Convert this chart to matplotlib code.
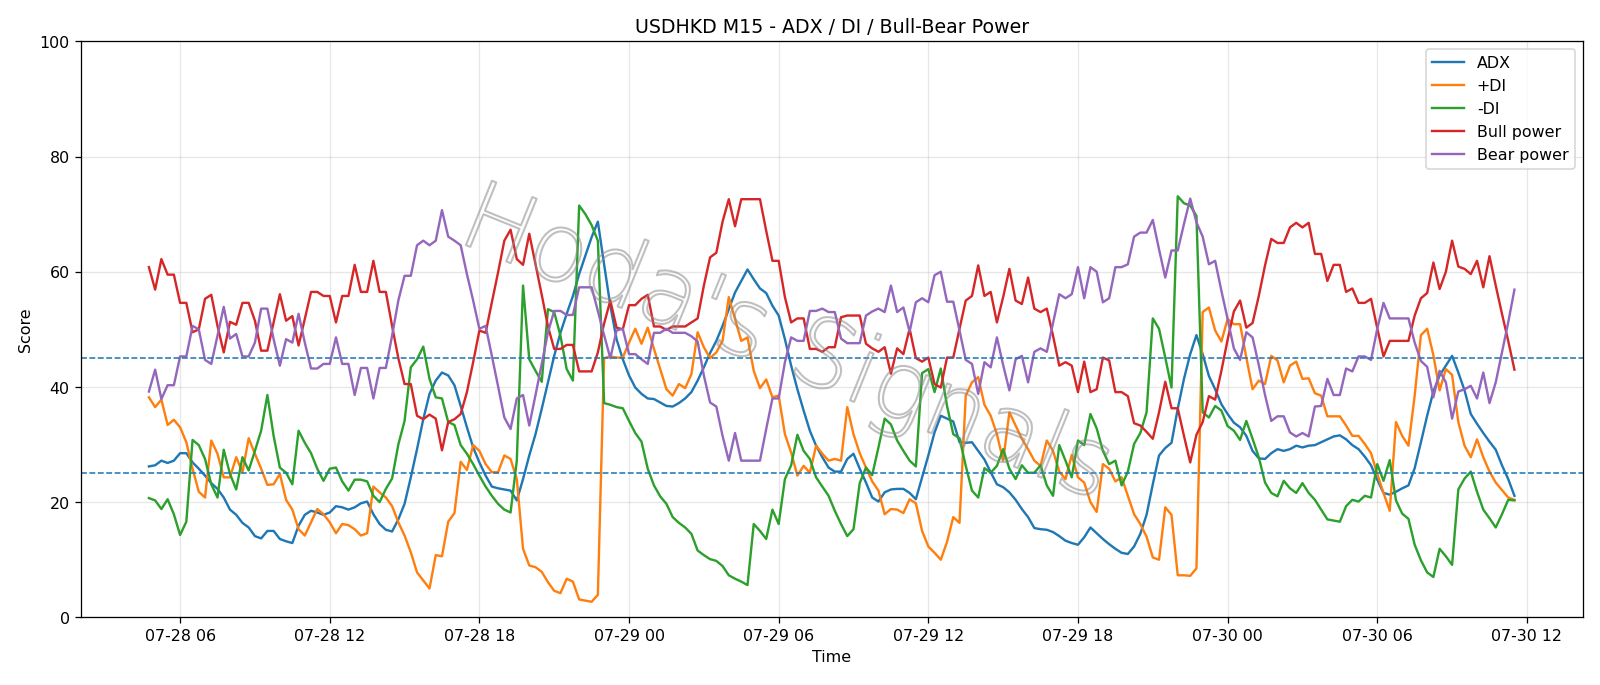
import pandas as pd
import matplotlib
matplotlib.use('Agg')
import matplotlib.pyplot as plt
import matplotlib.dates as mdates
import matplotlib.patheffects as pe

# 15-minute bars, 07-28 04:45 -> 07-30 11:30
times = pd.date_range('2025-07-28 04:45', periods=220, freq='15min')

adx = [
    26.2, 26.4, 27.2, 26.8, 27.2, 28.5, 28.5, 26.9, 25.8, 24.6, 23.3, 22.3, 20.8, 18.7, 17.8, 16.4, 15.6, 14.1, 13.7, 15.0,
    15.0, 13.6, 13.2, 12.9, 15.9, 17.8, 18.5, 18.2, 17.8, 18.2, 19.3, 19.1, 18.7, 19.1, 19.8, 20.1, 17.9, 16.2, 15.2, 14.9,
    17.0, 19.7, 24.3, 29.2, 34.4, 38.8, 41.1, 42.5, 42.0, 40.3, 36.7, 33.0, 29.5, 26.9, 24.6, 22.7, 22.4, 22.2, 22.0, 20.3,
    24.0, 28.1, 31.8, 36.2, 40.8, 45.4, 49.4, 52.7, 55.8, 59.6, 62.8, 66.0, 68.7, 61.3, 54.1, 48.3, 44.8, 42.0, 39.9, 38.8,
    38.0, 37.9, 37.3, 36.7, 36.6, 37.2, 38.0, 39.1, 41.1, 43.4, 45.9, 48.0, 50.6, 53.5, 56.4, 58.4, 60.4, 58.7, 57.1, 56.3,
    54.1, 52.4, 48.3, 43.7, 39.6, 35.9, 32.4, 29.8, 27.8, 26.0, 25.3, 25.3, 27.5, 28.4, 25.8, 23.4, 20.8, 20.1, 21.7, 22.2,
    22.3, 22.3, 21.6, 20.5, 24.3, 28.1, 32.1, 35.0, 34.5, 34.0, 30.4, 30.3, 30.4, 28.9, 27.4, 25.2, 23.1, 22.6, 21.7, 20.4,
    18.8, 17.4, 15.5, 15.3, 15.2, 14.8, 14.1, 13.3, 12.9, 12.6, 13.9, 15.6, 14.6, 13.6, 12.7, 11.9, 11.2, 11.0, 12.3, 14.5,
    17.8, 23.1, 28.1, 29.4, 30.3, 36.2, 41.4, 45.7, 49.0, 45.7, 41.9, 39.6, 37.0, 35.3, 33.8, 33.0, 31.5, 28.9, 27.6, 27.5,
    28.5, 29.2, 28.9, 29.2, 29.8, 29.5, 29.8, 29.9, 30.4, 30.9, 31.4, 31.6, 30.9, 29.9, 29.2, 27.9, 26.4, 23.9, 21.6, 21.3,
    21.8, 22.4, 22.9, 25.9, 30.4, 35.0, 39.2, 42.0, 43.7, 45.4, 42.5, 39.4, 35.3, 33.6, 32.0, 30.5, 29.1, 26.4, 24.0, 21.1,
]

plus_di = [
    38.2, 36.5, 37.8, 33.4, 34.3, 33.0, 30.4, 25.8, 21.8, 20.8, 30.7, 28.4, 24.3, 24.3, 27.8, 25.2, 31.1, 28.4, 25.8, 23.0,
    23.1, 24.9, 20.4, 18.7, 15.3, 14.2, 16.5, 18.8, 17.9, 16.5, 14.6, 16.2, 16.0, 15.3, 14.2, 14.6, 22.7, 21.7, 20.8, 19.3,
    16.5, 14.2, 11.3, 7.8, 6.4, 5.0, 10.8, 10.6, 16.6, 18.1, 27.0, 25.6, 29.9, 28.9, 26.6, 25.2, 25.2, 28.1, 27.5, 24.0,
    11.9, 9.0, 8.7, 7.9, 6.1, 4.6, 4.2, 6.7, 6.2, 3.1, 2.9, 2.7, 3.9, 45.0, 45.3, 45.1, 45.1, 47.7, 50.1, 47.5,
    50.3, 46.6, 43.1, 39.6, 38.5, 40.5, 39.8, 42.2, 49.5, 46.9, 45.0, 46.0, 48.0, 55.6, 51.8, 48.0, 48.6, 42.8, 39.8, 41.3,
    38.2, 38.5, 31.8, 28.6, 24.6, 26.3, 25.1, 29.8, 28.4, 27.2, 27.5, 27.2, 36.5, 31.8, 28.5, 26.0, 23.6, 22.0, 17.9, 18.8,
    18.7, 18.1, 20.5, 19.8, 15.0, 12.3, 11.2, 10.0, 13.1, 17.4, 16.4, 38.5, 40.8, 41.7, 36.9, 35.0, 31.8, 27.2, 35.6, 33.3,
    31.0, 29.2, 27.2, 26.3, 30.7, 28.9, 25.3, 24.0, 28.2, 24.3, 23.4, 20.0, 18.3, 26.6, 25.8, 23.6, 24.3, 21.1, 17.9, 16.2,
    14.0, 10.4, 10.0, 19.1, 17.8, 7.3, 7.3, 7.2, 8.5, 53.0, 53.8, 49.8, 47.9, 51.8, 50.9, 50.9, 45.1, 39.6, 41.1, 40.5,
    45.4, 44.6, 40.8, 43.7, 44.4, 41.4, 41.5, 38.9, 38.5, 34.9, 34.9, 34.9, 33.3, 31.5, 31.5, 30.1, 28.5, 24.9, 21.6, 18.5,
    33.9, 31.5, 29.8, 38.5, 49.0, 50.1, 45.5, 39.4, 43.1, 42.1, 33.9, 29.8, 27.8, 30.9, 27.8, 25.3, 23.4, 22.1, 20.8, 20.4,
]

minus_di = [
    20.7, 20.3, 18.8, 20.5, 17.9, 14.3, 16.6, 30.8, 29.9, 27.5, 23.1, 20.8, 29.1, 24.9, 22.2, 27.8, 25.5, 28.9, 32.4, 38.6,
    31.5, 26.0, 25.1, 23.1, 32.4, 30.3, 28.5, 25.8, 23.7, 25.8, 26.0, 23.6, 22.0, 23.9, 23.9, 23.6, 21.1, 20.0, 22.3, 24.1,
    30.0, 34.1, 43.4, 44.8, 47.0, 41.4, 38.2, 38.0, 33.9, 33.4, 29.9, 28.4, 26.6, 24.6, 22.7, 21.1, 19.7, 18.7, 18.2, 27.2,
    57.6, 44.8, 42.8, 40.9, 53.5, 53.0, 48.9, 43.1, 41.1, 71.5, 70.0, 68.1, 65.4, 37.2, 36.9, 36.5, 36.3, 34.1, 32.0, 30.5,
    25.8, 22.9, 21.0, 19.7, 17.4, 16.4, 15.6, 14.5, 11.6, 10.8, 10.1, 9.8, 8.9, 7.3, 6.7, 6.2, 5.6, 16.2, 15.0, 13.6,
    18.7, 16.2, 24.0, 26.4, 31.7, 28.9, 27.5, 24.3, 22.7, 21.1, 18.5, 16.2, 14.1, 15.3, 23.3, 26.0, 24.7, 29.5, 34.5, 33.5,
    30.7, 28.9, 27.2, 26.2, 42.4, 43.1, 39.1, 43.2, 36.7, 31.8, 31.1, 26.3, 22.0, 20.8, 25.9, 25.1, 26.3, 29.2, 25.8, 24.0,
    26.4, 25.1, 25.1, 26.4, 22.9, 21.1, 29.9, 27.2, 24.3, 30.7, 29.9, 35.3, 32.8, 28.9, 26.6, 27.2, 22.9, 25.3, 30.1, 32.0,
    35.6, 51.9, 50.1, 45.1, 39.9, 73.1, 71.9, 71.5, 69.7, 35.6, 34.7, 36.7, 35.9, 33.2, 32.4, 30.8, 34.1, 31.0, 27.8, 23.4,
    21.6, 21.0, 23.7, 22.4, 21.6, 23.3, 21.6, 20.4, 18.7, 17.0, 16.8, 16.6, 19.3, 20.4, 20.1, 21.1, 20.8, 26.6, 23.7, 27.3,
    20.3, 18.0, 17.1, 12.6, 9.9, 7.8, 7.0, 11.9, 10.6, 9.1, 22.2, 24.1, 25.3, 21.8, 18.7, 17.2, 15.6, 17.9, 20.4, 20.3,
]

bull_power = [
    60.8, 56.9, 62.2, 59.5, 59.5, 54.6, 54.6, 49.5, 50.0, 55.3, 56.0, 50.6, 46.0, 51.3, 50.8, 54.6, 54.6, 51.5, 46.3, 46.3,
    51.2, 56.1, 51.5, 52.3, 47.2, 51.8, 56.5, 56.5, 55.8, 55.8, 51.2, 55.8, 55.8, 61.2, 56.5, 56.5, 61.9, 56.5, 56.5, 50.6,
    45.0, 40.5, 40.5, 35.0, 34.4, 35.2, 34.5, 29.0, 33.9, 34.4, 35.3, 39.1, 44.3, 49.8, 49.4, 54.7, 59.9, 65.4, 67.3, 62.2,
    61.2, 66.6, 61.3, 56.0, 50.5, 46.6, 46.6, 47.3, 47.3, 42.7, 42.7, 42.7, 46.0, 51.0, 55.0, 50.3, 50.0, 54.2, 54.2, 55.3,
    56.0, 50.5, 50.5, 49.9, 50.5, 50.5, 50.5, 51.2, 51.9, 57.6, 62.5, 63.3, 68.7, 72.6, 67.9, 72.6, 72.6, 72.6, 72.6, 67.1,
    61.9, 61.9, 55.6, 51.2, 51.9, 51.9, 46.6, 46.6, 46.1, 46.9, 46.9, 52.1, 52.4, 52.4, 52.4, 47.5, 46.7, 46.1, 46.9, 42.3,
    46.7, 45.7, 50.1, 45.0, 44.4, 45.1, 40.5, 39.9, 45.1, 45.1, 50.1, 55.0, 55.8, 61.1, 55.8, 56.5, 51.2, 55.6, 60.5, 55.0,
    54.4, 59.0, 53.6, 53.0, 53.6, 48.9, 43.7, 44.3, 43.7, 39.1, 44.4, 39.1, 39.6, 45.1, 44.6, 39.1, 39.1, 38.4, 33.7, 33.3,
    32.2, 31.0, 35.6, 40.9, 36.3, 36.3, 31.5, 26.9, 31.7, 33.9, 38.4, 37.8, 42.8, 48.2, 53.1, 55.0, 50.3, 51.1, 55.8, 61.1,
    65.7, 65.0, 65.0, 67.7, 68.5, 67.7, 68.5, 63.1, 63.1, 58.4, 61.2, 61.2, 56.5, 57.1, 54.6, 54.6, 55.3, 50.2, 45.3, 48.0,
    48.0, 48.0, 48.0, 52.4, 55.4, 56.3, 61.6, 57.0, 60.0, 65.4, 60.9, 60.5, 59.6, 61.9, 57.3, 62.7, 57.6, 52.7, 48.0, 43.0,
]

bear_power = [
    39.2, 43.0, 37.9, 40.3, 40.3, 45.3, 45.3, 50.6, 50.0, 44.7, 44.0, 48.9, 53.9, 48.4, 49.2, 45.3, 45.3, 47.7, 53.6, 53.6,
    48.3, 43.7, 48.3, 47.7, 52.7, 47.7, 43.2, 43.2, 44.0, 44.0, 48.6, 44.0, 44.0, 38.6, 43.3, 43.3, 38.0, 43.3, 43.3, 48.9,
    55.0, 59.3, 59.3, 64.6, 65.4, 64.6, 65.4, 70.7, 66.1, 65.4, 64.6, 59.6, 55.0, 50.1, 50.6, 45.4, 40.1, 34.7, 32.7, 38.0,
    38.6, 33.3, 38.6, 44.0, 49.5, 53.2, 53.2, 52.5, 52.5, 57.3, 57.3, 57.3, 53.2, 49.0, 45.0, 49.8, 50.1, 45.7, 45.7, 44.8,
    44.0, 49.4, 49.4, 50.1, 49.4, 49.4, 49.4, 48.8, 47.9, 42.0, 37.3, 36.6, 31.5, 27.2, 32.0, 27.2, 27.2, 27.2, 27.2, 32.7,
    38.0, 38.0, 44.3, 48.6, 48.0, 48.0, 53.2, 53.2, 53.6, 53.0, 53.0, 48.4, 47.6, 47.6, 47.6, 52.4, 53.1, 53.6, 53.0, 57.6,
    53.0, 53.8, 49.6, 54.7, 55.4, 54.7, 59.4, 60.0, 54.8, 54.8, 49.8, 44.7, 44.0, 38.8, 44.3, 43.4, 48.6, 43.8, 39.4, 44.8,
    45.4, 40.8, 46.1, 46.7, 46.1, 51.1, 56.1, 55.4, 56.1, 60.8, 55.4, 60.8, 60.0, 54.7, 55.4, 60.8, 60.8, 61.3, 66.1, 66.8,
    66.8, 69.0, 63.9, 59.0, 63.7, 63.7, 68.3, 72.7, 68.6, 66.1, 61.3, 61.9, 56.7, 51.8, 46.7, 44.7, 49.5, 48.6, 43.8, 38.6,
    34.1, 34.9, 34.9, 32.1, 31.4, 32.0, 31.4, 36.6, 36.7, 41.4, 38.6, 38.6, 43.2, 42.7, 45.3, 45.3, 44.7, 50.1, 54.6, 51.9,
    51.9, 51.9, 51.9, 47.7, 44.5, 43.5, 38.2, 42.8, 40.8, 34.5, 39.2, 39.6, 40.2, 38.0, 42.5, 37.2, 40.8, 46.0, 51.2, 56.9,
]

fig = plt.figure(figsize=(14, 6), dpi=1600 / 14)
ax = fig.add_axes([0.0504, 0.0987, 0.9388, 0.8399])

ax.plot(times, adx, label='ADX')
ax.plot(times, plus_di, label='+DI')
ax.plot(times, minus_di, label='-DI')
ax.plot(times, bull_power, label='Bull power')
ax.plot(times, bear_power, label='Bear power')

ax.axhline(25, linestyle='--', linewidth=1, color='tab:blue')
ax.axhline(45, linestyle='--', linewidth=1, color='tab:blue')

ax.set_ylim(0, 100)
ax.set_title('USDHKD M15 - ADX / DI / Bull-Bear Power')
ax.set_xlabel('Time')
ax.set_ylabel('Score')
ax.xaxis.set_major_locator(mdates.HourLocator(byhour=[0, 6, 12, 18]))
ax.xaxis.set_major_formatter(mdates.DateFormatter('%m-%d %H'))
ax.grid(True, alpha=0.3)
ax.legend(loc='upper right')

# watermark: hollow outlined letters
ax.text(0.47, 0.47, "Hoda's Signals", transform=ax.transAxes, fontsize=60,
        fontweight='light', rotation=-22, ha='center', va='center',
        color='none', zorder=5,
        path_effects=[pe.Stroke(linewidth=1.3, foreground=(0.55, 0.55, 0.55, 0.55))])

fig.savefig('out.png', dpi=1600 / 14)
